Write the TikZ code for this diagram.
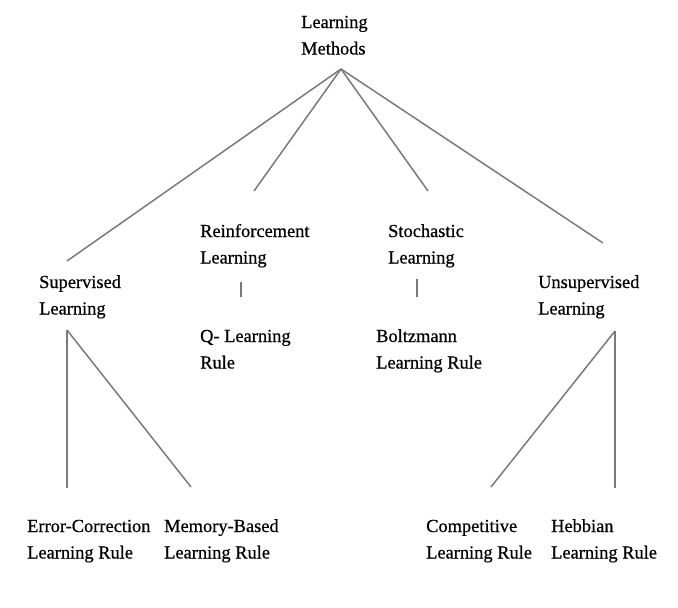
\documentclass[tikz,border=0pt]{standalone}
\usepackage{fontspec}
\setmainfont{Liberation Serif}[FakeBold=0.6]
\begin{document}
\begin{tikzpicture}[x=1pt,y=-1pt,
  lbl/.style={anchor=base west,inner sep=0pt,font=\fontsize{18.4}{26.5}\selectfont},
  conn/.style={draw=black!52,line width=1.5pt}]
\useasboundingbox[fill=white] (0,0) rectangle (678,608);
\newcommand{\twol}[2]{\begin{tabular}[t]{@{}l@{}}#1\\#2\end{tabular}}
% nodes
\node[lbl] (root) at (301,28) {\twol{Learning}{Methods}};
\node[lbl] (sup) at (39,288) {\twol{Supervised}{Learning}};
\node[lbl] (rein) at (200,237) {\twol{Reinforcement}{Learning}};
\node[lbl] (stoch) at (388,237) {\twol{Stochastic}{Learning}};
\node[lbl] (unsup) at (538,288) {\twol{Unsupervised}{Learning}};
\node[lbl] (qlr) at (200,342) {\twol{Q- Learning}{Rule}};
\node[lbl] (boltz) at (376,342) {\twol{Boltzmann}{Learning Rule}};
\node[lbl] (err) at (27,532) {\twol{Error-Correction}{Learning Rule}};
\node[lbl] (mem) at (164,532) {\twol{Memory-Based}{Learning Rule}};
\node[lbl] (comp) at (426,532) {\twol{Competitive}{Learning Rule}};
\node[lbl] (hebb) at (551,532) {\twol{Hebbian}{Learning Rule}};
% connector end points
\coordinate (apex) at (341,69);
\coordinate (supT) at (67,261);
\coordinate (reinT) at (254,191);
\coordinate (stochT) at (428,191);
\coordinate (unsupT) at (603,243);
\coordinate (reinB) at (241,282);
\coordinate (qlrT) at (241,297);
\coordinate (stochB) at (417,279);
\coordinate (boltzT) at (417,297);
\coordinate (supB) at (67,330);
\coordinate (errT) at (67,488);
\coordinate (memT) at (191,487);
\coordinate (unsupB) at (615,331);
\coordinate (compT) at (491,487);
\coordinate (hebbT) at (615,488);
% connectors
\draw[conn] (apex) -- (supT);
\draw[conn] (apex) -- (reinT);
\draw[conn] (apex) -- (stochT);
\draw[conn] (apex) -- (unsupT);
\draw[conn] (reinB) -- (qlrT);
\draw[conn] (stochB) -- (boltzT);
\draw[conn] (supB) -- (errT);
\draw[conn] (supB) -- (memT);
\draw[conn] (unsupB) -- (compT);
\draw[conn] (unsupB) -- (hebbT);
\end{tikzpicture}
\end{document}
